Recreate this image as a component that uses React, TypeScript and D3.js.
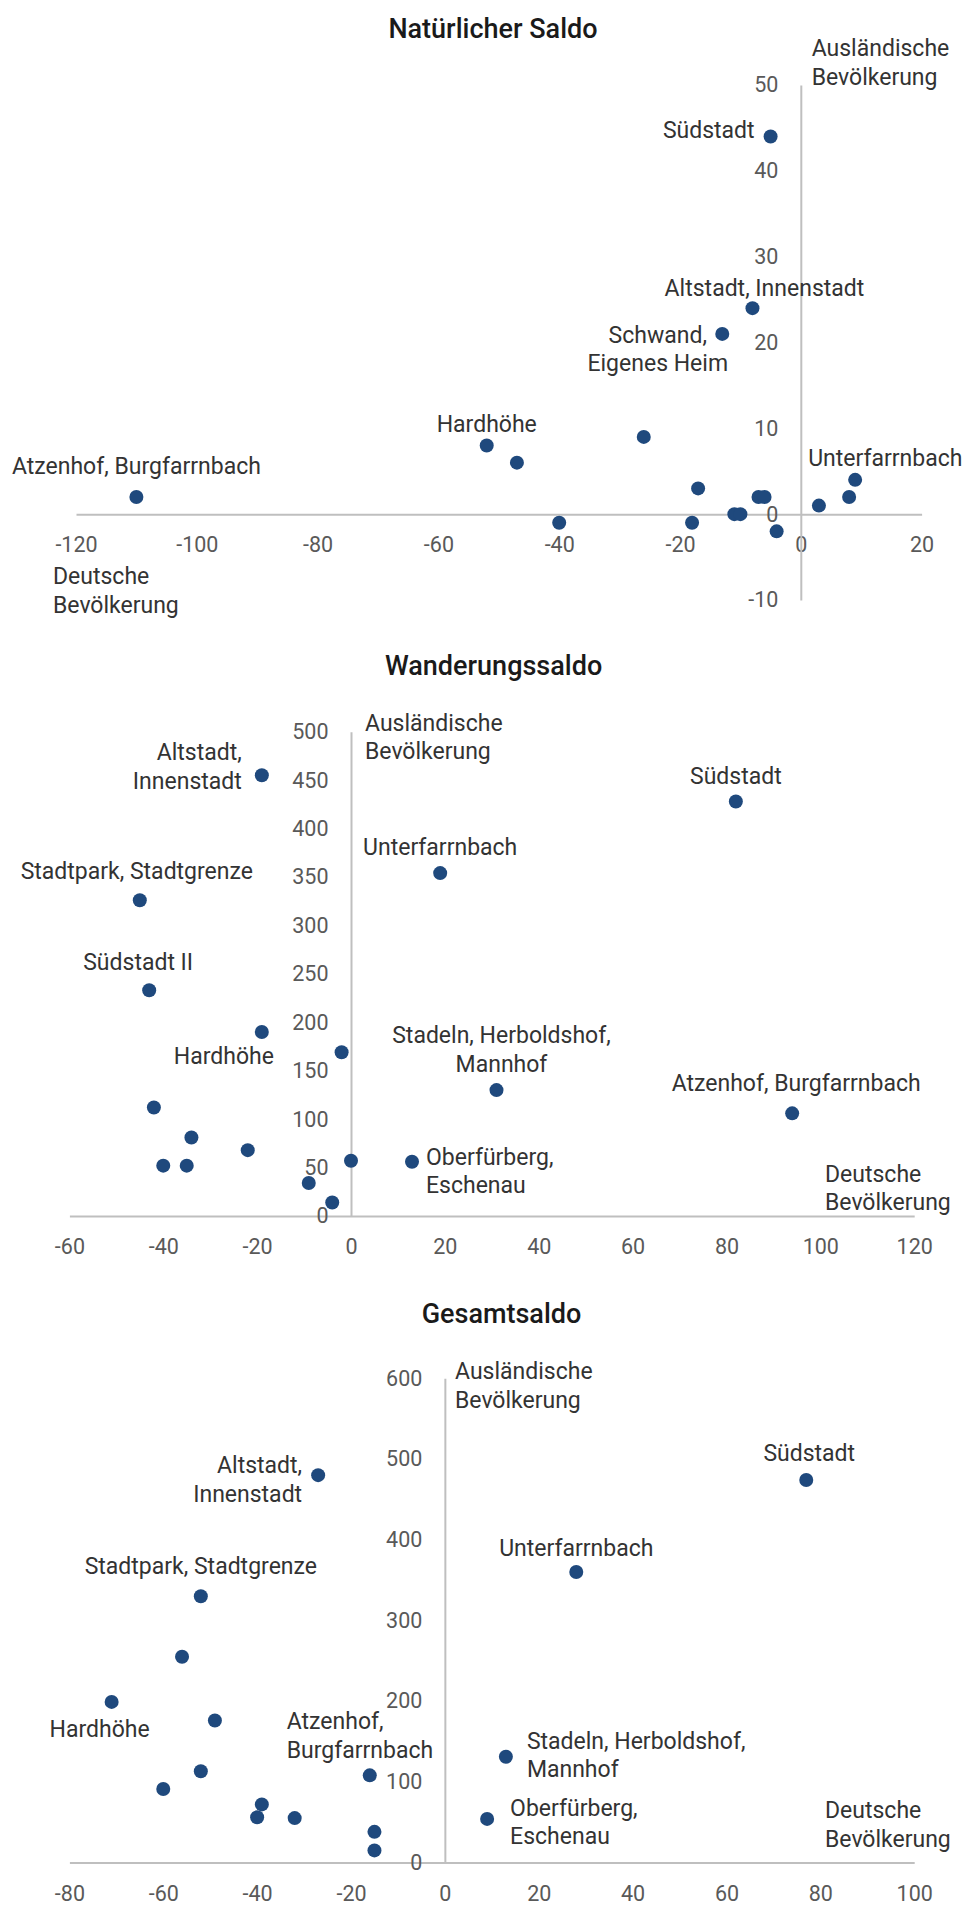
import React, { useEffect, useRef } from 'react';
import * as d3 from 'd3';

// Natürlicher Saldo (x: Deutsche, y: Ausländische)
const natNames = [
  'Südstadt', 'Altstadt, Innenstadt', 'Schwand,\nEigenes Heim', 'Hardhöhe', '', '',
  'Atzenhof, Burgfarrnbach', '', '', '', '', '', '', '', '', '', '', 'Unterfarrnbach',
];
const natX = [-5, -8, -13, -52, -47, -26, -110, -40, -18, -17, -11, -10, -7, -6, -4, 3, 8, 9];
const natY = [44, 24, 21, 8, 6, 9, 2, -1, -1, 3, 0, 0, 2, 2, -2, 1, 2, 4];
const natXTicks = [-120, -100, -80, -60, -40, -20, 0, 20];
const natYTicks = [-10, 0, 10, 20, 30, 40, 50];

// Wanderungssaldo
const wanNames = [
  'Altstadt,\nInnenstadt', 'Südstadt', 'Unterfarrnbach', 'Stadtpark, Stadtgrenze', 'Südstadt II',
  'Hardhöhe', '', 'Stadeln, Herboldshof,\nMannhof', 'Atzenhof, Burgfarrnbach', '', '', '', '', '',
  '', 'Oberfürberg,\nEschenau', '', '',
];
const wanX = [-19, 82, 19, -45, -43, -19, -2, 31, 94, -42, -34, -22, -40, -35, 0, 13, -9, -4];
const wanY = [455, 428, 354, 326, 233, 190, 169, 130, 106, 112, 81, 68, 52, 52, 57, 56, 34, 14];
const wanXTicks = [-60, -40, -20, 0, 20, 40, 60, 80, 100, 120];
const wanYTicks = [0, 50, 100, 150, 200, 250, 300, 350, 400, 450, 500];

// Gesamtsaldo
const gesNames = [
  'Altstadt,\nInnenstadt', 'Südstadt', 'Unterfarrnbach', 'Stadtpark, Stadtgrenze', '', 'Hardhöhe',
  '', '', '', 'Atzenhof,\nBurgfarrnbach', 'Stadeln, Herboldshof,\nMannhof', '', '', '',
  'Oberfürberg,\nEschenau', '', '',
];
const gesX = [-27, 77, 28, -52, -56, -71, -49, -52, -60, -16, 13, -39, -40, -32, 9, -15, -15];
const gesY = [480, 474, 360, 330, 255, 199, 176, 113, 91, 108, 131, 72, 56, 55, 54, 38, 15];
const gesXTicks = [-80, -60, -40, -20, 0, 20, 40, 60, 80, 100];
const gesYTicks = [0, 100, 200, 300, 400, 500, 600];

const yAxisTitle = 'Ausländische\nBevölkerung';
const xAxisTitle = 'Deutsche\nBevölkerung';

const FONT = "Roboto, 'Open Sans', sans-serif";
const AXIS = '#bfbfbf';
const DOT = '#1f497d';
const LH = 28.5;

const panels = [
  {
    title: 'Natürlicher Saldo', names: natNames, xs: natX, ys: natY, xTicks: natXTicks, yTicks: natYTicks,
    layout: {
      xRange: [76, 921.6], yRange: [600, 85], title: [493, 37.5],
      yTitle: [811.7, 56], xTitle: [53, 584],
      labels: {
        'Südstadt': [-16, 1, 'end'],
        'Altstadt, Innenstadt': [12, -12, 'middle'],
        'Schwand,\nEigenes Heim': [-64.5, 9, 'middle'],
        'Hardhöhe': [0, -14, 'middle'],
        'Atzenhof, Burgfarrnbach': [0, -23, 'middle'],
        'Unterfarrnbach': [-47, -14, 'start'],
      },
    },
  },
  {
    title: 'Wanderungssaldo', names: wanNames, xs: wanX, ys: wanY, xTicks: wanXTicks, yTicks: wanYTicks,
    layout: {
      xRange: [69.4, 914.2], yRange: [1216, 731.7], title: [493.6, 674.5],
      yTitle: [365, 730.7], xTitle: [825, 1181.7],
      labels: {
        'Altstadt,\nInnenstadt': [-20, -15, 'end'],
        'Südstadt': [0, -17, 'middle'],
        'Unterfarrnbach': [0, -18, 'middle'],
        'Stadtpark, Stadtgrenze': [-3, -21, 'middle'],
        'Südstadt II': [-11, -20, 'middle'],
        'Hardhöhe': [-38, 32, 'middle'],
        'Stadeln, Herboldshof,\nMannhof': [5, -47, 'middle'],
        'Atzenhof, Burgfarrnbach': [4, -22, 'middle'],
        'Oberfürberg,\nEschenau': [14, 3, 'start'],
      },
    },
  },
  {
    title: 'Gesamtsaldo', names: gesNames, xs: gesX, ys: gesY, xTicks: gesXTicks, yTicks: gesYTicks,
    layout: {
      xRange: [69.4, 914.2], yRange: [1862.5, 1378.3], title: [501.5, 1323],
      yTitle: [455, 1379.3], xTitle: [825, 1818.3],
      labels: {
        'Altstadt,\nInnenstadt': [-16, -2, 'end'],
        'Südstadt': [3, -19, 'middle'],
        'Unterfarrnbach': [0, -16, 'middle'],
        'Stadtpark, Stadtgrenze': [0, -22, 'middle'],
        'Hardhöhe': [-12, 35, 'middle'],
        'Atzenhof,\nBurgfarrnbach': [-83, -46, 'start'],
        'Stadeln, Herboldshof,\nMannhof': [21, -8, 'start'],
        'Oberfürberg,\nEschenau': [23, -3, 'start'],
      },
    },
  },
];

const multiText = (g, str, x, y, anchor, size, color) => {
  const t = g.append('text')
    .attr('x', x).attr('y', y)
    .attr('text-anchor', anchor)
    .attr('font-family', FONT)
    .attr('font-size', size)
    .attr('fill', color);
  str.split('\n').forEach((line, i) => {
    t.append('tspan').attr('x', x).attr('dy', i === 0 ? 0 : LH).text(line);
  });
};

const Panel = ({ p }) => {
  const gRef = useRef(null);

  useEffect(() => {
    const g = d3.select(gRef.current);
    g.selectAll('*').remove();
    const L = p.layout;

    const xScale = d3.scaleLinear().domain(d3.extent(p.xTicks)).range(L.xRange);
    const yScale = d3.scaleLinear().domain(d3.extent(p.yTicks)).range(L.yRange);

    // X軸 (crosses at y = 0)
    const xAxis = d3.axisBottom(xScale)
      .tickValues(p.xTicks)
      .tickFormat(d => String(d))
      .tickSize(0)
      .tickSizeOuter(0)
      .tickPadding(23);
    const gx = g.append('g').attr('transform', `translate(0, ${yScale(0)})`).call(xAxis);

    // Y軸 (crosses at x = 0)
    const yAxis = d3.axisLeft(yScale)
      .tickValues(p.yTicks)
      .tickFormat(d => String(d))
      .tickSize(0)
      .tickSizeOuter(0)
      .tickPadding(22.5);
    const gy = g.append('g').attr('transform', `translate(${xScale(0)}, 0)`).call(yAxis);

    [gx, gy].forEach(a => {
      a.attr('font-family', FONT).attr('font-size', 21.5);
      a.select('.domain').attr('stroke', AXIS).attr('stroke-width', 2);
      a.selectAll('text').attr('fill', '#595959');
    });

    // title + axis captions
    g.append('text')
      .attr('x', L.title[0]).attr('y', L.title[1])
      .attr('text-anchor', 'middle')
      .attr('font-family', FONT).attr('font-size', 27).attr('font-weight', 500)
      .attr('fill', '#1a1a1a')
      .text(p.title);
    multiText(g, yAxisTitle, L.yTitle[0], L.yTitle[1], 'start', 23, '#333333');
    multiText(g, xAxisTitle, L.xTitle[0], L.xTitle[1], 'start', 23, '#333333');

    // points
    const idx = d3.range(p.xs.length);
    g.append('g')
      .selectAll('circle')
      .data(idx)
      .join('circle')
      .attr('cx', i => xScale(p.xs[i]))
      .attr('cy', i => yScale(p.ys[i]))
      .attr('r', 7)
      .attr('fill', DOT);

    // data labels
    idx.forEach(i => {
      const name = p.names[i];
      if (!name) return;
      const [dx, dy, anchor] = L.labels[name];
      const cx = xScale(p.xs[i]);
      const cy = yScale(p.ys[i]);
      multiText(g, name, cx + dx, cy + dy, anchor, 23, '#333333');
    });
  }, [p]);

  return <g ref={gRef} />;
};

const App = () => (
  <svg
    width={963}
    height={1905}
    style={{ position: 'absolute', left: 0, top: 0, background: '#fff' }}
  >
    {panels.map(p => <Panel key={p.title} p={p} />)}
  </svg>
);

export default App;
